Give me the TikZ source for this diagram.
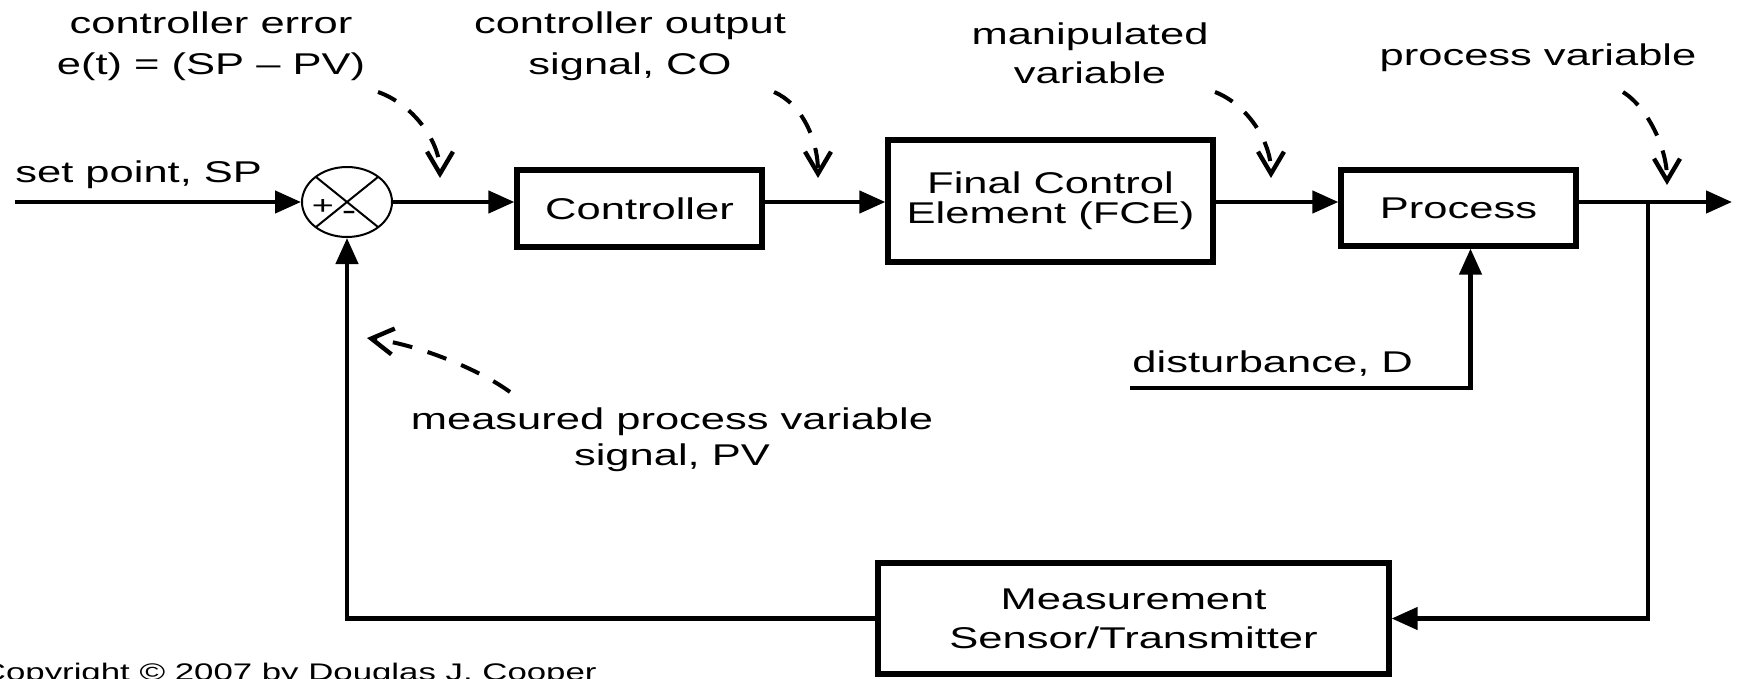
\documentclass[tikz,border=0pt]{standalone}
\usepackage{fontspec}
\setmainfont{Liberation Sans}[FakeStretch=1.45]
\usetikzlibrary{arrows.meta,shapes.geometric,calc}
\begin{document}
\begin{tikzpicture}[x=0.5pt,y=-0.5pt,
  lbl/.style={font=\fontsize{15}{20.5}\selectfont, align=center, inner sep=0},
  blk/.style={draw, line width=2.6pt, align=center, inner sep=0},
  conn/.style={line width=2.2pt, -{Triangle[length=13pt,width=11pt]}},
  pointer/.style={line width=2pt, dash pattern=on 10pt off 8pt,
     -{Straight Barb[length=11pt,width=13pt,line width=2.2pt]}}]
\useasboundingbox (0,0) rectangle (1738,679);
\clip (0,0) rectangle (1738,679);
\fill[white] (0,0) rectangle (1738,679);

% blocks
\node[blk, minimum width=122.5pt, minimum height=38.5pt, font=\fontsize{15}{15}\selectfont] (ctrl) at (639.5,208.5) {Controller};
\node[blk, minimum width=162.5pt, minimum height=61pt, font=\fontsize{15}{15}\selectfont] (fce) at (1050.5,201) {Final Control\\Element (FCE)};
\node[blk, minimum width=117.5pt, minimum height=38pt, font=\fontsize{15}{15}\selectfont] (proc) at (1458.5,208) {Process};
\node[blk, minimum width=255.5pt, minimum height=55.5pt, font=\fontsize{15}{19.5}\selectfont] (meas) at (1133.5,618.5) {Measurement\\Sensor/Transmitter};

% summing junction
\node[ellipse, draw, line width=1pt, minimum width=45pt, minimum height=35pt, inner sep=0] (sum) at (347,202) {};
\draw[line width=1pt] ($(sum.center)+(-31,-25)$) -- ($(sum.center)+(31,25)$);
\draw[line width=1pt] ($(sum.center)+(31,-25)$) -- ($(sum.center)+(-31,25)$);
\node[font=\fontsize{13}{13}\selectfont, inner sep=0] (plus) at (323,207) {+};
\node[font=\fontsize{15}{15}\selectfont, inner sep=0] (minus) at (349,216) {-};

% labels
\node[lbl, anchor=base west] (splbl) at (15,183) {set point, SP};
\node[lbl] (errlbl) at (211,46) {controller error\\e(t) = (SP -- PV)};
\node[lbl] (colbl) at (630,46) {controller output\\signal, CO};
\node[lbl, font=\fontsize{15}{19.5}\selectfont] (mvlbl) at (1090,53) {manipulated\\variable};
\node[lbl, anchor=base] (pvlbl) at (1538,66) {process variable};
\node[lbl, font=\fontsize{15}{18}\selectfont] (mpvlbl) at (672,440) {measured process variable\\signal, PV};
\node[lbl, anchor=base west] (dlbl) at (1132,372) {disturbance, D};
\node[font=\fontsize{12}{12}\selectfont, anchor=base east, inner sep=0] (copy) at (597,680) {Copyright © 2007 by Douglas J. Cooper};

% connectors
\coordinate (spin) at (15,202);
\coordinate (out) at (1732,202);
\coordinate (br) at (1648,202);
\coordinate (dist) at (1130,388);
\draw[conn] (spin) -- (sum.west);
\draw[conn] (sum.east) -- (sum.east -| ctrl.west);
\draw[conn] (ctrl.east |- sum.east) -- (fce.west |- sum.east);
\draw[conn] (fce.east |- sum.east) -- (proc.west |- sum.east);
\draw[conn] (proc.east |- sum.east) -- (out);
\draw[conn] (br) |- (meas.east);
\draw[conn] (meas.west) -| (sum.south);
\draw[conn] (dist) -| ($(proc.south)+(12,0)$);

% pointer arrows
\coordinate (p1s) at (378,92);  \coordinate (p1e) at (440,178);
\coordinate (p2s) at (774,92);  \coordinate (p2e) at (818,178);
\coordinate (p3s) at (1215,92); \coordinate (p3e) at (1271,178);
\coordinate (p4s) at (1623,92); \coordinate (p4e) at (1667,185);
\coordinate (p5s) at (510,392); \coordinate (p5e) at (367,338);
\draw[pointer] (p1s) .. controls (412,104) and (440,140) .. (p1e);
\draw[pointer] (p2s) .. controls (802,104) and (818,140) .. (p2e);
\draw[pointer] (p3s) .. controls (1246,104) and (1271,140) .. (p3e);
\draw[pointer] (p4s) .. controls (1648,108) and (1667,148) .. (p4e);
\draw[pointer] (p5s) .. controls (480,370) and (420,345) .. (p5e);
\end{tikzpicture}
\end{document}
